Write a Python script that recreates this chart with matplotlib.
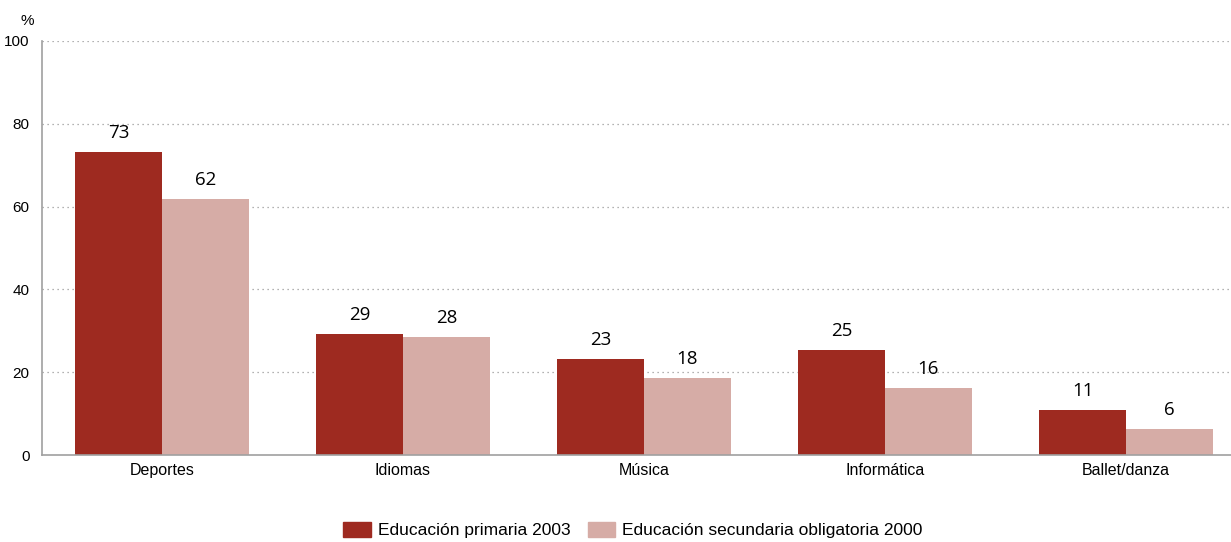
import matplotlib.pyplot as plt
from matplotlib.patches import Patch
import numpy as np

CATEGORIES = ['Deportes', 'Idiomas', 'Música', 'Informática', 'Ballet/danza']
PRIMARIA_2003 = [73.3, 29.2, 23.2, 25.4, 10.9]
SECUNDARIA_2000 = [61.9, 28.4, 18.6, 16.2, 6.3]
LABELS_PRIMARIA = ['73', '29', '23', '25', '11']
LABELS_SECUNDARIA = ['62', '28', '18', '16', '6']
YTICKS = [0, 20, 40, 60, 80, 100]

DARK = '#9E2A20'
LIGHT = '#D6ACA6'

plt.rcParams['font.family'] = ['Liberation Sans', 'DejaVu Sans']

fig = plt.figure(figsize=(12.31, 5.42), dpi=100)
ax = fig.add_axes([0.0341, 0.1605, 0.9659, 0.7639])

x = np.arange(len(CATEGORIES))
w = 0.36
b1 = ax.bar(x - w / 2, PRIMARIA_2003, w, color=DARK)
b2 = ax.bar(x + w / 2, SECUNDARIA_2000, w, color=LIGHT)

for bars, labels in ((b1, LABELS_PRIMARIA), (b2, LABELS_SECUNDARIA)):
    for bar, lab in zip(bars, labels):
        ax.text(bar.get_x() + bar.get_width() / 2, bar.get_height() + 2.4, lab,
                ha='center', va='bottom', fontsize=13.5, family=['Open Sans', 'DejaVu Sans'])

ax.set_xlim(-0.498, 4.436)
ax.set_ylim(0, 100)
ax.set_yticks(YTICKS)
ax.set_yticklabels([str(v) for v in YTICKS], fontsize=11)
ax.set_xticks(x)
ax.set_xticklabels(CATEGORIES, fontsize=11.5)
ax.tick_params(axis='both', length=0)
ax.tick_params(axis='y', pad=9)
ax.tick_params(axis='x', pad=6)

for v in YTICKS[1:]:
    ax.axhline(v, color='#999999', lw=0.9, ls=(0, (1, 3)), zorder=0)

for s in ('top', 'right'):
    ax.spines[s].set_visible(False)
for s in ('left', 'bottom'):
    ax.spines[s].set_color('#A0A0A0')
    ax.spines[s].set_linewidth(1.2)

fig.text(0.022, 0.962, '%', fontsize=11, ha='center', va='center')

handles = [Patch(color=DARK, label='Educación primaria 2003'),
           Patch(color=LIGHT, label='Educación secundaria obligatoria 2000')]
fig.legend(handles=handles, loc='lower center', bbox_to_anchor=(0.514, -0.022), ncol=2,
           frameon=False, fontsize=12.5, handlelength=1.6, handleheight=1.0,
           columnspacing=1.0, handletextpad=0.4)

fig.savefig('out.png', dpi=100)
